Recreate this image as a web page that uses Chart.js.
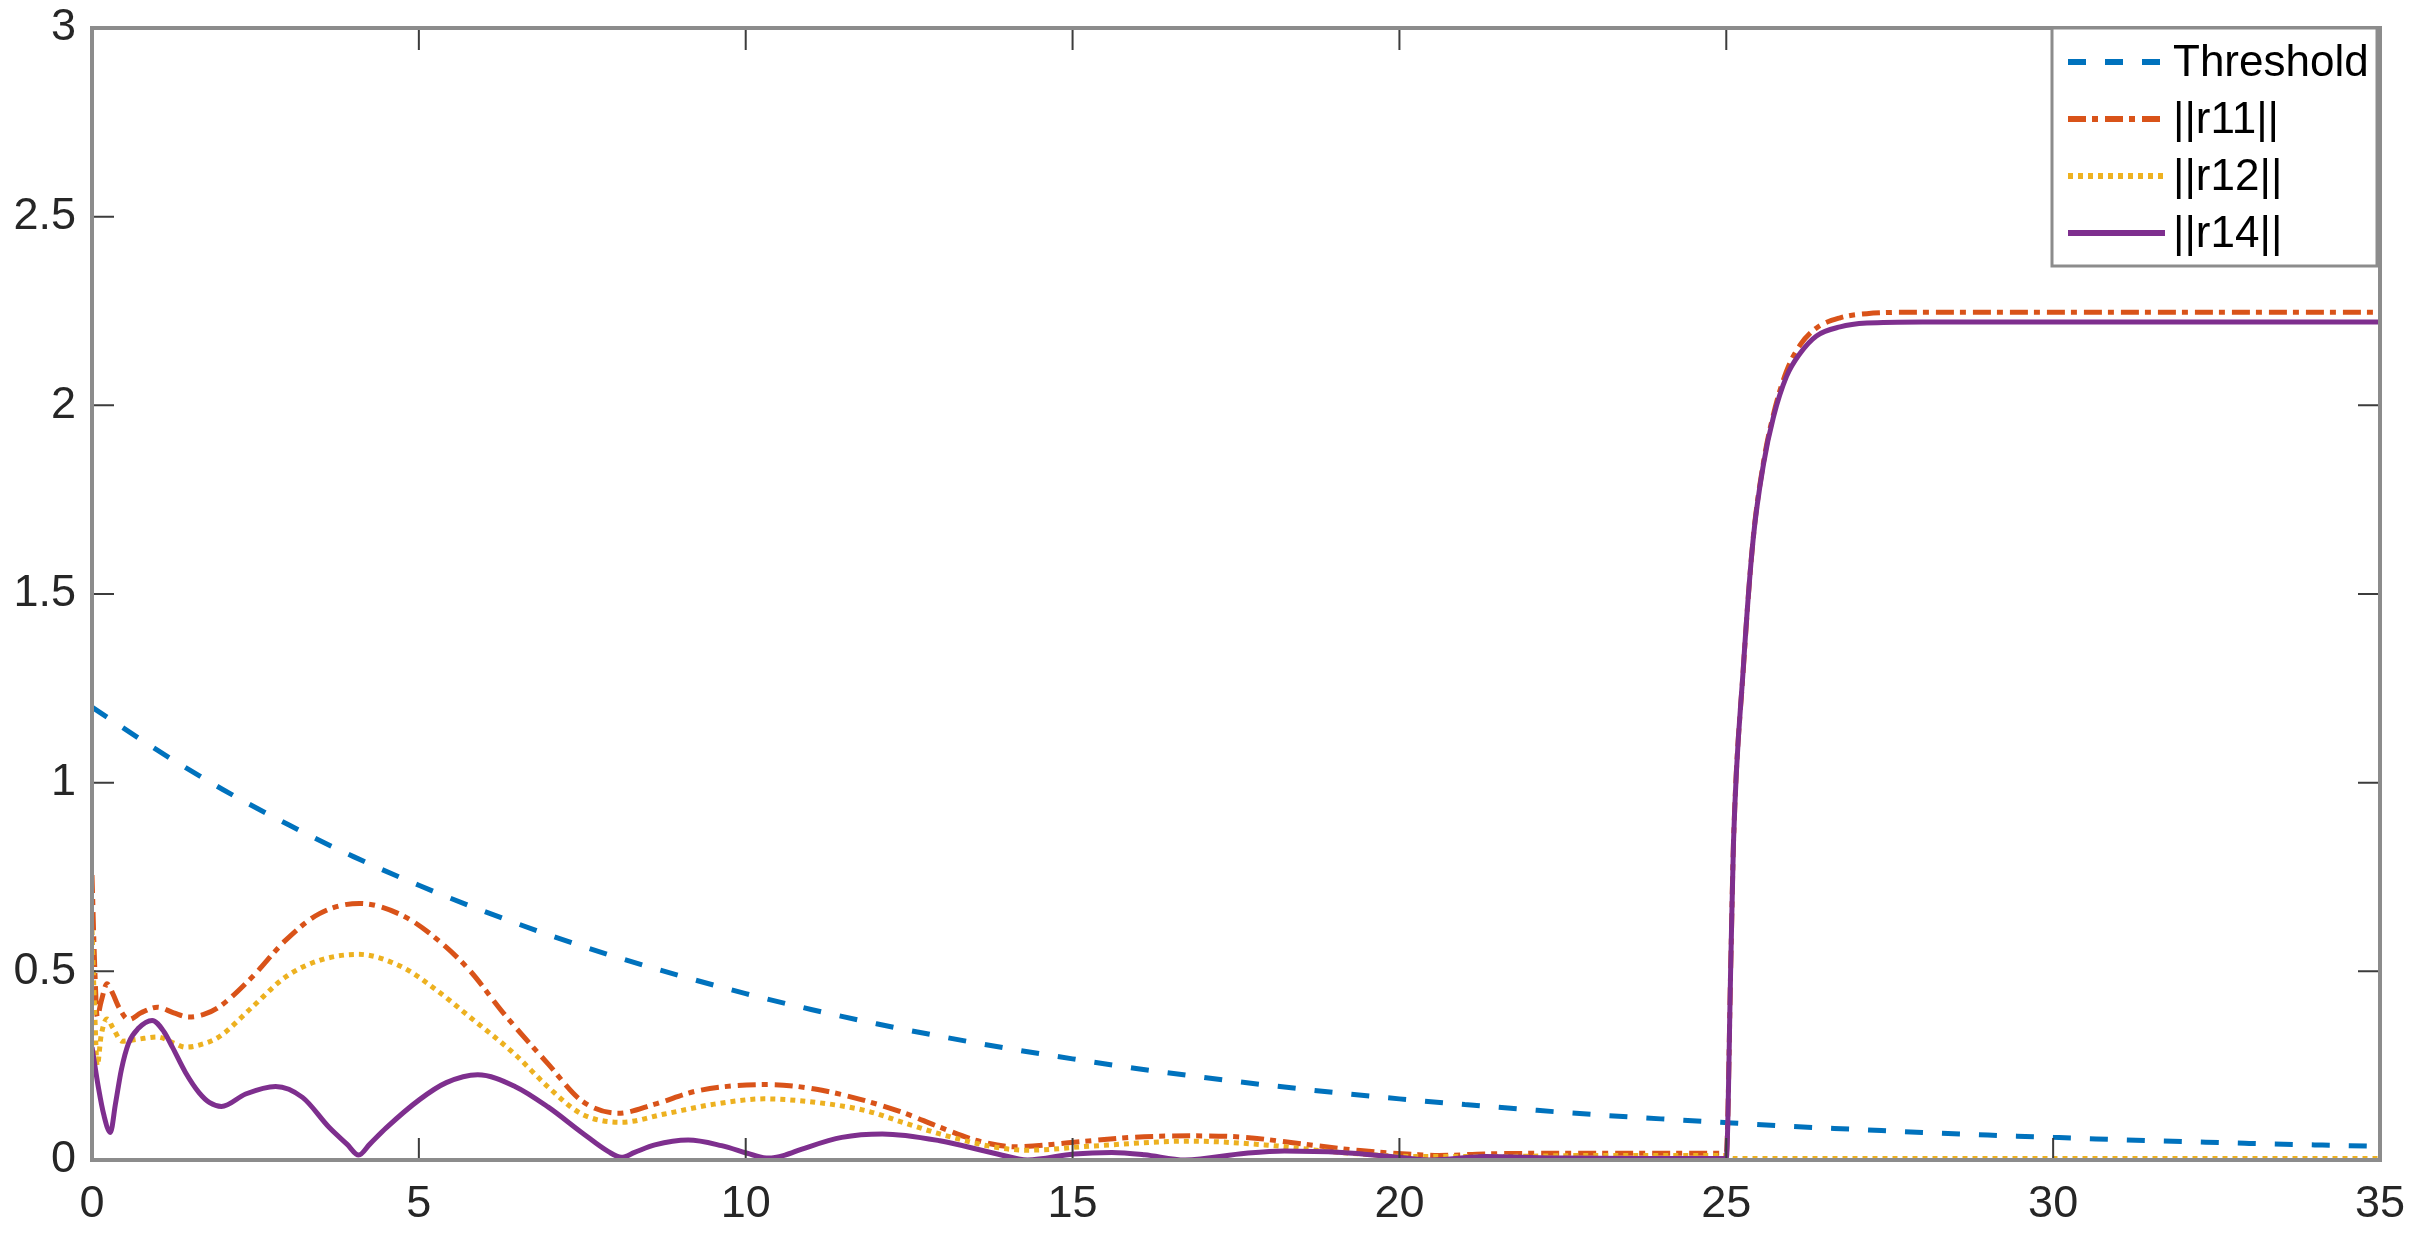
<!DOCTYPE html>
<html>
<head>
<meta charset="utf-8">
<script src="https://cdn.jsdelivr.net/npm/chart.js@4.4.0/dist/chart.umd.min.js"></script>
<style>
html, body { margin: 0; padding: 0; background: #fff; }
#wrap { width: 2415px; height: 1235px; }
</style>
</head>
<body>
<div id="wrap"><canvas id="grafico"></canvas></div>
<script>
// etiquetas de los ejes
const xTicks = [0, 5, 10, 15, 20, 25, 30, 35];
const yTicks = ['0', '0.5', '1', '1.5', '2', '2.5', '3'];
const nombres = ['Threshold', '||r11||', '||r12||', '||r14||'];

// Threshold
const tThreshold = [0, 1, 2, 3, 4, 5, 6, 7, 8, 9, 10, 11, 12, 13, 14, 15, 16, 17, 18, 19, 20, 21, 22, 23, 24, 25, 26, 27, 28, 29, 30, 31, 32, 33, 34, 35];
const threshold = [1.2, 1.086, 0.982, 0.889, 0.804, 0.728, 0.659, 0.596, 0.539, 0.488, 0.441, 0.399, 0.361, 0.327, 0.296, 0.268, 0.242, 0.219, 0.198, 0.179, 0.162, 0.147, 0.133, 0.120, 0.109, 0.099, 0.089, 0.081, 0.073, 0.066, 0.060, 0.054, 0.049, 0.044, 0.040, 0.036];

// ||r11||
const tR11 = [0, 0.04, 0.08, 0.14, 0.23, 0.32, 0.41, 0.56, 0.75, 1.0, 1.25, 1.48, 1.7, 1.94, 2.45, 2.96, 3.48, 4.09, 4.75, 5.27, 5.78, 6.29, 6.98, 7.49, 8.05, 8.61, 9.28, 10.35, 11.06, 11.83, 12.4, 12.97, 13.55, 14.13, 15.02, 15.9, 16.8, 17.65, 18.53, 19.4, 20.3, 20.6, 21.3, 22.5, 24, 25.0, 25.07, 25.11, 25.26, 25.41, 25.57, 25.72, 25.92, 26.13, 26.38, 26.74, 27.15, 28, 35];
const r11 = [0.755, 0.52, 0.38, 0.42, 0.467, 0.44, 0.405, 0.372, 0.39, 0.405, 0.39, 0.379, 0.385, 0.405, 0.485, 0.582, 0.653, 0.68, 0.648, 0.586, 0.502, 0.39, 0.254, 0.157, 0.124, 0.148, 0.184, 0.2, 0.188, 0.157, 0.126, 0.087, 0.051, 0.035, 0.047, 0.06, 0.064, 0.06, 0.042, 0.025, 0.014, 0.012, 0.016, 0.018, 0.018, 0.018, 0.53, 0.84, 1.30, 1.645, 1.85, 1.975, 2.09, 2.16, 2.205, 2.232, 2.243, 2.247, 2.247];

// ||r12||
const tR12 = [0, 0.04, 0.08, 0.14, 0.23, 0.32, 0.46, 0.7, 1.0, 1.25, 1.43, 1.65, 1.94, 2.45, 2.96, 3.48, 4.07, 4.75, 5.27, 5.78, 6.47, 6.98, 7.49, 8.1, 8.76, 9.52, 10.28, 11.06, 11.83, 12.4, 12.97, 13.85, 14.31, 15.3, 16.8, 17.94, 19.1, 20.3, 21.3, 23, 25.0, 25.1, 35];
const r12 = [0.609, 0.40, 0.25, 0.33, 0.374, 0.35, 0.315, 0.32, 0.326, 0.31, 0.299, 0.305, 0.326, 0.405, 0.485, 0.529, 0.545, 0.511, 0.45, 0.379, 0.28, 0.193, 0.122, 0.1, 0.122, 0.148, 0.162, 0.153, 0.131, 0.1, 0.069, 0.033, 0.026, 0.037, 0.05, 0.04, 0.02, 0.009, 0.009, 0.012, 0.012, 0.004, 0.004];

// ||r14||
const tR14 = [0, 0.1, 0.18, 0.28, 0.36, 0.45, 0.56, 0.71, 0.92, 1.1, 1.23, 1.43, 1.64, 1.8, 1.98, 2.35, 2.81, 3.22, 3.63, 3.9, 4.08, 4.25, 4.5, 5.01, 5.42, 5.9, 6.47, 6.98, 7.49, 7.9, 8.1, 8.3, 8.61, 9.12, 9.63, 10.1, 10.35, 10.6, 10.86, 11.47, 12.09, 12.97, 13.85, 14.31, 15.02, 15.6, 16.1, 16.72, 17.65, 18.24, 19.12, 20.0, 20.5, 21.3, 22.5, 24, 25.0, 25.07, 25.11, 25.26, 25.41, 25.57, 25.72, 25.92, 26.13, 26.38, 26.74, 27.15, 28, 35];
const r14 = [0.299, 0.19, 0.12, 0.073, 0.15, 0.24, 0.31, 0.349, 0.37, 0.34, 0.299, 0.232, 0.178, 0.152, 0.142, 0.175, 0.195, 0.166, 0.086, 0.042, 0.013, 0.042, 0.085, 0.16, 0.205, 0.226, 0.195, 0.14, 0.073, 0.022, 0.007, 0.02, 0.04, 0.053, 0.038, 0.014, 0.005, 0.013, 0.029, 0.06, 0.069, 0.051, 0.016, 0.0, 0.016, 0.02, 0.014, 0.0, 0.018, 0.024, 0.02, 0.007, 0.0, 0.009, 0.005, 0.004, 0.004, 0.53, 0.84, 1.303, 1.643, 1.845, 1.968, 2.076, 2.138, 2.184, 2.208, 2.218, 2.221, 2.221];

const colores = ['#0072BD', '#D95319', '#EDB120', '#7E2F8E'];
const guiones = [[18, 19], [18, 6, 6, 7], [5, 5], []];

function pares(t, v) {
    return t.map((x, i) => ({ x: x, y: v[i] }));
}

function serie(i, t, v, orden) {
    return {
        label: nombres[i],
        data: pares(t, v),
        borderColor: colores[i],
        borderWidth: 5,
        borderDash: guiones[i],
        pointRadius: 0,
        fill: false,
        cubicInterpolationMode: 'monotone',
        order: orden
    };
}

// marco, marcas hacia adentro y leyenda estilo matlab
const marco = {
    id: 'marco',
    afterDraw(chart) {
        const ctx = chart.ctx;
        const a = chart.chartArea;
        const sx = chart.scales.x;
        const sy = chart.scales.y;
        ctx.save();
        ctx.setLineDash([]);
        ctx.strokeStyle = '#3c3c3c';
        ctx.lineWidth = 2;
        ctx.beginPath();
        xTicks.forEach(v => {
            const px = sx.getPixelForValue(v);
            ctx.moveTo(px, a.bottom); ctx.lineTo(px, a.bottom - 22);
            ctx.moveTo(px, a.top); ctx.lineTo(px, a.top + 22);
        });
        yTicks.forEach(s => {
            const py = sy.getPixelForValue(parseFloat(s));
            ctx.moveTo(a.left, py); ctx.lineTo(a.left + 22, py);
            ctx.moveTo(a.right, py); ctx.lineTo(a.right - 22, py);
        });
        ctx.stroke();

        ctx.strokeStyle = '#8c8c8c';
        ctx.lineWidth = 4;
        ctx.strokeRect(a.left, a.top, a.right - a.left, a.bottom - a.top);

        // leyenda
        const right = a.right - 3;
        const top = a.top;
        const w = 325, h = 238;
        ctx.fillStyle = '#ffffff';
        ctx.fillRect(right - w, top, w, h);
        ctx.strokeStyle = '#8c8c8c';
        ctx.lineWidth = 3;
        ctx.strokeRect(right - w, top, w, h);
        ctx.font = '44px "Liberation Sans", Arial, sans-serif';
        ctx.textBaseline = 'middle';
        ctx.textAlign = 'left';
        nombres.forEach((n, i) => {
            const y = top + 34 + i * 57;
            ctx.strokeStyle = colores[i];
            ctx.lineWidth = 6;
            ctx.setLineDash(guiones[i]);
            ctx.beginPath();
            ctx.moveTo(right - w + 16, y);
            ctx.lineTo(right - w + 113, y);
            ctx.stroke();
            ctx.setLineDash([]);
            ctx.fillStyle = '#000000';
            ctx.fillText(n, right - w + 121, y + 2);
        });
        ctx.restore();
    }
};

const ctx = document.getElementById('grafico').getContext('2d');
const grafico = new Chart(ctx, {
    type: 'line',
    data: {
        datasets: [
            serie(0, tThreshold, threshold, 3),
            serie(1, tR11, r11, 2),
            serie(2, tR12, r12, 1),
            serie(3, tR14, r14, 0)
        ]
    },
    options: {
        responsive: true,
        maintainAspectRatio: false,
        animation: false,
        layout: { padding: { top: 28, right: 35, left: 0, bottom: 0 } },
        plugins: {
            legend: { display: false },
            tooltip: { enabled: false }
        },
        scales: {
            x: {
                type: 'linear',
                min: 0,
                max: 35,
                afterFit: s => { s.height = 75; s.paddingLeft = 0; s.paddingRight = 0; },
                grid: { display: false, drawTicks: false },
                border: { display: false },
                ticks: {
                    stepSize: 5,
                    autoSkip: false,
                    maxRotation: 0,
                    padding: 18,
                    color: '#262626',
                    font: { family: '"Liberation Sans", Arial, sans-serif', size: 45 },
                    callback: v => xTicks.includes(v) ? String(v) : ''
                }
            },
            y: {
                min: 0,
                max: 3,
                afterFit: s => { s.width = 92; s.paddingTop = 0; s.paddingBottom = 0; },
                grid: { display: false, drawTicks: false },
                border: { display: false },
                ticks: {
                    stepSize: 0.5,
                    padding: 16,
                    color: '#262626',
                    font: { family: '"Liberation Sans", Arial, sans-serif', size: 45 },
                    callback: v => yTicks[Math.round(v * 2)]
                }
            }
        }
    },
    plugins: [marco]
});
</script>
</body>
</html>
